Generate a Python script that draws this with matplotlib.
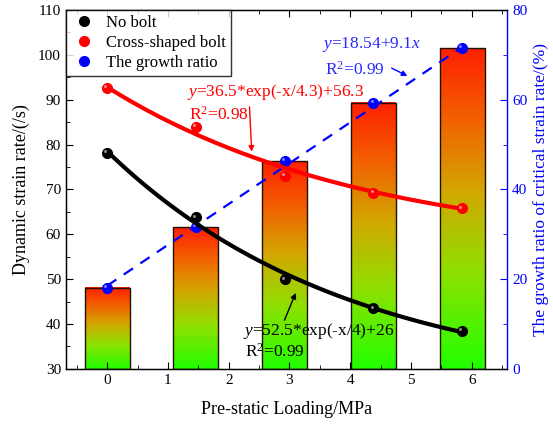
import numpy as np
import matplotlib
matplotlib.use("Agg")
import matplotlib.pyplot as plt
from matplotlib.colors import LinearSegmentedColormap
from matplotlib.ticker import MultipleLocator
from matplotlib.lines import Line2D
import matplotlib.transforms as mtransforms

plt.rcParams['font.family'] = ['Liberation Serif', 'DejaVu Serif']
plt.rcParams['mathtext.fontset'] = 'custom'
plt.rcParams['mathtext.rm'] = 'Liberation Serif'
plt.rcParams['mathtext.it'] = 'Liberation Serif:italic'

# ---- data ----
loading = [0, 1.46, 2.92, 4.38, 5.84]
no_bolt = [78.2, 63.8, 50.0, 43.5, 38.5]
cross_bolt = [92.6, 83.9, 73.0, 69.2, 65.8]
growth_ratio = [18.1, 31.6, 46.3, 59.3, 71.5]

# fit parameters (from the annotations)
nb_a, nb_t, nb_c = 52.5, 4.0, 26.0
cb_a, cb_t, cb_c = 36.5, 4.3, 56.3
gr_b, gr_k = 18.54, 9.1

fig = plt.figure(figsize=(5.53, 4.29), dpi=100)
ax = fig.add_axes([0.119, 0.140, 0.798, 0.837])
ax2 = ax.twinx()
ax.set_zorder(ax2.get_zorder() + 1)
ax.patch.set_visible(False)

# gradient bars on right axis
cmap = LinearSegmentedColormap.from_list(
    'rg', [(0.0, '#22ff00'), (0.3, '#8ee000'), (0.55, '#d2a800'),
           (0.78, '#f26000'), (1.0, '#ff2000')])
grad = np.linspace(0, 1, 256).reshape(-1, 1)
bw = 0.74
for x, h in zip(loading, growth_ratio):
    ax2.imshow(grad, extent=[x - bw / 2, x + bw / 2, 0, h], aspect='auto',
               cmap=cmap, origin='lower', zorder=1, interpolation='bilinear')
ax2.bar(loading, growth_ratio, width=bw, fill=False, edgecolor='#201000',
        linewidth=1.0, zorder=2)

# blue growth ratio fit + points
xf = np.linspace(loading[0], loading[-1], 100)
ax2.plot(xf, gr_b + gr_k * xf, color='#0000ff', lw=1.6, ls=(0, (5, 4)), zorder=3)

def balls(axis, xs, ys, color, light, z):
    axis.plot(xs, ys, 'o', color=color, ms=7, mec=color, zorder=z)
    tr = mtransforms.offset_copy(axis.transData, fig=fig, x=-1.2, y=1.2, units='points')
    axis.plot(xs, ys, 'o', color=light, ms=2.2, mec='none', zorder=z + 0.1,
              transform=tr, alpha=0.8)

balls(ax2, loading, growth_ratio, '#0000ff', '#9a9aff', 4)

# red and black fits
ax.plot(xf, cb_a * np.exp(-xf / cb_t) + cb_c, color='#ff0000', lw=3, zorder=3)
ax.plot(xf, nb_a * np.exp(-xf / nb_t) + nb_c, color='black', lw=3, zorder=3)
balls(ax, loading, cross_bolt, '#ff0000', '#ffaaaa', 4)
balls(ax, loading, no_bolt, '#000000', '#aaaaaa', 4)

# axes
ax.set_xlim(-0.68, 6.58)
ax.set_ylim(30, 110)
ax2.set_ylim(0, 80)
ax2.set_xlim(-0.68, 6.58)

ax.xaxis.set_major_locator(MultipleLocator(1))
ax.xaxis.set_minor_locator(MultipleLocator(0.5))
ax.yaxis.set_major_locator(MultipleLocator(10))
ax.yaxis.set_minor_locator(MultipleLocator(5))
ax2.yaxis.set_major_locator(MultipleLocator(20))
ax2.yaxis.set_minor_locator(MultipleLocator(10))

ax.tick_params(axis='x', which='both', direction='in', top=True, bottom=True,
               labelsize=11)
ax.tick_params(axis='x', which='major', length=5)
ax.tick_params(axis='x', which='minor', length=3)
ax.tick_params(axis='y', which='both', direction='in', left=True, right=False,
               labelsize=11)
ax.tick_params(axis='y', which='major', length=5)
ax.tick_params(axis='y', which='minor', length=3)
ax2.tick_params(axis='y', which='both', direction='in', colors='#0000ff',
                labelsize=11)
ax2.tick_params(axis='y', which='major', length=5)
ax2.tick_params(axis='y', which='minor', length=3)
ax2.spines['right'].set_color('#0000ff')
ax.spines['right'].set_visible(False)
for s in ['left', 'top', 'bottom']:
    ax.spines[s].set_linewidth(1.0)
ax2.spines['right'].set_linewidth(1.0)

ax.set_xlabel('Pre-static Loading/MPa', fontsize=13, labelpad=10)
ax.set_ylabel('Dynamic strain rate/(/s)', fontsize=13, labelpad=6)
ax2.set_ylabel('The growth ratio of critical strain rate/(%)', fontsize=12.5,
               color='#0000ff', labelpad=4)

# annotations
blue_t = '#2a2aff'
ax.text(3.54, 102.2, '$y$=18.54+9.1$x$', color=blue_t, fontsize=12.5, va='center')
ax.text(3.58, 96.6, 'R$^2$=0.99', color=blue_t, fontsize=12.5, va='center')
ax.annotate('', xy=(4.98, 95.0), xytext=(4.64, 97.3),
            arrowprops=dict(arrowstyle='-|>', color='#0000ff', lw=1, mutation_scale=8),
            zorder=6)

ax.text(1.32, 91.7, '$y$=36.5*exp(-x/4.3)+56.3', color='#ff0000', fontsize=12.5,
        va='center')
ax.text(1.34, 86.6, 'R$^2$=0.98', color='#ff0000', fontsize=12.5, va='center')
ax.annotate('', xy=(2.38, 77.8), xytext=(2.34, 89.0),
            arrowprops=dict(arrowstyle='-|>', color='#ff0000', lw=1, mutation_scale=8),
            zorder=6)

ax.text(2.24, 38.5, '$y$=52.5*exp(-x/4)+26', color='black', fontsize=12.5,
        va='center')
ax.text(2.26, 33.9, 'R$^2$=0.99', color='black', fontsize=12.5, va='center')
ax.annotate('', xy=(3.12, 47.5), xytext=(2.9, 40.3),
            arrowprops=dict(arrowstyle='-|>', color='black', lw=1, mutation_scale=8),
            zorder=6)

handles = [
    Line2D([], [], ls='none', marker='o', color='black', ms=7),
    Line2D([], [], ls='none', marker='o', color='#ff0000', ms=7),
    Line2D([], [], ls='none', marker='o', color='#0000ff', ms=7),
]
leg = ax.legend(handles, ['No bolt', 'Cross-shaped bolt', 'The growth ratio'],
                loc='upper left', bbox_to_anchor=(0, 1), borderaxespad=0,
                fontsize=12, frameon=True, fancybox=False, edgecolor='black',
                handletextpad=0.5, labelspacing=0.25, borderpad=0.3,
                handlelength=1.6)
leg.get_frame().set_linewidth(1.0)
leg.set_zorder(10)

fig.savefig('out.png', dpi=100)
